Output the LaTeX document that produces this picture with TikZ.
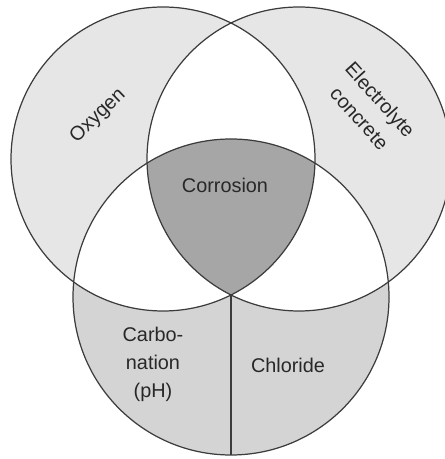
\documentclass[tikz,border=0pt]{standalone}
\usepackage{fontspec}
\setmainfont{Liberation Sans}
\usetikzlibrary{calc}

\definecolor{outergray}{RGB}{230,230,230}
\definecolor{lowergray}{RGB}{212,212,212}
\definecolor{coregray}{RGB}{166,166,166}
\definecolor{ringgray}{RGB}{60,60,60}
\definecolor{textgray}{RGB}{40,40,40}

\begin{document}
\begin{tikzpicture}[
    x=0.02cm, y=0.02cm, % one unit = one pixel of the sketch
    ring/.style={draw=ringgray, line width=0.7pt}, % circle outlines
    label text/.style={text=textgray, font=\fontsize{11.3}{15.9}\selectfont, align=center} % all labels
  ]

  \useasboundingbox (0,0) rectangle (444,459);

  % --- Centres and radii ---
  \def\toprad{152} % radius of the two upper circles
  \def\botrad{158} % radius of the lower circle
  \coordinate (oxy) at (163,300); % Oxygen circle
  \coordinate (ele) at (299,300); % Electrolyte circle
  \coordinate (bot) at (231,162); % Carbonation / Chloride circle

  % --- Plain fills ---
  \fill[outergray] (oxy) circle (\toprad);
  \fill[outergray] (ele) circle (\toprad);
  \fill[lowergray] (bot) circle (\botrad);

  % --- Pairwise overlaps are white ---
  \begin{scope}
    \clip (oxy) circle (\toprad);
    \fill[white] (ele) circle (\toprad);
    \fill[white] (bot) circle (\botrad);
  \end{scope}
  \begin{scope}
    \clip (ele) circle (\toprad);
    \fill[white] (bot) circle (\botrad);
  \end{scope}

  % --- Triple overlap ---
  \begin{scope}
    \clip (oxy) circle (\toprad);
    \clip (ele) circle (\toprad);
    \fill[coregray] (bot) circle (\botrad);
  \end{scope}

  % --- Outlines ---
  \draw[ring] (oxy) circle (\toprad);
  \draw[ring] (ele) circle (\toprad);
  \draw[ring] (bot) circle (\botrad);

  % --- Split of the lower circle ---
  \coordinate (meet) at (231,164.1); % lower crossing of the upper circles
  \coordinate (foot) at ($(bot)+(0,-\botrad)$); % bottom of the lower circle
  \draw[ring] (meet) -- (foot);

  % --- Labels ---
  \node[label text, rotate=44] (oxygen) at (98,343) {Oxygen};
  \node[label text, rotate=-48] (electrolyte) at (370,350) {Electrolyte\\concrete};
  \node[label text] (corrosion) at (225,274) {Corrosion};
  \node[label text] (carbonation) at (153,95) {Carbo-\\nation\\(pH)};
  \node[label text] (chloride) at (288,94) {Chloride};

\end{tikzpicture}
\end{document}
